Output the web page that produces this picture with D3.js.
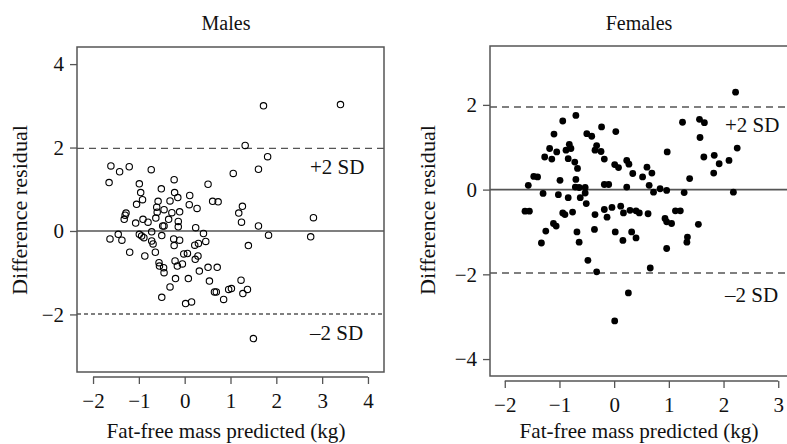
<!DOCTYPE html>
<html>
<head>
<meta charset="utf-8">
<script src="https://cdn.jsdelivr.net/npm/d3@7"></script>
<style>
  body { margin: 0; background: #fff; }
  svg text { font-family: "Liberation Serif", "Times New Roman", Tinos, "DejaVu Serif", "Noto Serif", serif !important; fill: #111; }
</style>
</head>
<body>
<div id="chart"></div>
<script>
// residuals: [predicted fat-free mass, difference residual]
const malesData = [
  [1.72,3.00],[3.40,3.03],[1.32,2.05],[1.81,1.78],[1.61,1.48],[1.06,1.38],
  [-1.61,1.56],[-1.42,1.42],[-1.21,1.54],[-0.73,1.47],
  [-1.65,1.16],[-0.99,1.13],[-0.96,0.92],[-0.92,0.75],[-1.05,0.64],
  [-0.51,1.01],[-0.23,1.23],[-0.22,0.92],[-0.15,0.80],[-0.32,0.72],[-0.58,0.71],
  [-0.61,0.57],[-0.45,0.51],[-0.28,0.44],[-0.11,0.46],[-0.60,0.45],
  [0.11,0.85],[0.10,0.63],[0.27,0.54],[0.51,1.12],[0.61,0.71],[0.73,0.70],
  [1.26,0.59],[1.18,0.43],[1.24,0.21],[1.61,0.12],[1.83,-0.10],[2.81,0.32],[2.75,-0.14],[1.39,-0.35],
  [-1.28,0.43],[-1.30,0.38],[-1.32,0.28],[-1.07,0.19],[-0.91,0.28],[-0.80,0.21],[-0.63,0.31],
  [-0.48,0.12],[-0.45,0.12],[-0.35,0.28],[-0.14,0.23],[-0.14,0.10],[0.24,0.08],[0.41,-0.06],[-0.72,-0.02],
  [-1.63,-0.19],[-1.45,-0.08],[-1.37,-0.22],[-0.99,-0.08],[-0.94,-0.12],[-0.89,-0.16],[-0.72,-0.24],
  [-0.69,-0.31],[-0.50,-0.11],[-0.24,-0.19],[-0.23,-0.35],[-0.11,-0.22],[0.22,-0.34],[0.30,-0.30],[0.46,-0.25],
  [-1.20,-0.51],[-0.87,-0.60],[-0.64,-0.51],[-0.02,-0.55],[0.06,-0.54],[0.23,-0.68],[0.29,-0.60],
  [-0.56,-0.76],[-0.55,-0.84],[-0.46,-0.88],[-0.45,-1.00],[-0.21,-0.72],[-0.16,-0.84],[-0.05,-0.79],
  [0.32,-0.96],[0.51,-0.87],[0.71,-0.87],
  [-0.20,-1.14],[0.08,-1.14],[0.54,-1.20],[-0.32,-1.34],[1.23,-1.18],[1.27,-1.50],[1.37,-1.40],
  [0.65,-1.46],[0.69,-1.46],[0.96,-1.40],[1.02,-1.38],[0.85,-1.64],[-0.50,-1.59],[0.02,-1.74],[0.15,-1.70],
  [1.50,-2.58]
];

const femalesData = [
  [2.22,2.30],[-0.70,1.75],[-0.94,1.62],[1.25,1.59],[1.56,1.66],[1.65,1.58],[-1.10,1.31],[-0.50,1.32],
  [-0.41,1.26],[-0.23,1.48],[0.03,1.37],[1.57,1.23],[2.25,0.98],
  [-1.18,0.97],[-1.05,0.89],[-1.27,0.77],[-1.14,0.72],[-0.88,0.93],[-0.82,1.07],[-0.79,0.97],
  [-0.84,0.73],[-0.72,0.65],[-0.67,0.50],
  [-0.35,0.93],[-0.24,0.90],[-0.32,1.04],[-0.18,0.72],[0.01,0.59],[0.08,0.52],
  [0.23,0.69],[0.27,0.60],[0.34,0.38],[0.52,0.30],[0.60,0.53],[0.69,0.39],[0.97,0.89],[1.38,0.26],
  [1.64,0.77],[1.83,0.81],[1.92,0.61],[2.10,0.69],[1.82,0.39],
  [-1.47,0.31],[-1.40,0.30],[-1.57,0.10],[-0.99,0.22],[-0.70,0.24],[-0.71,0.06],[-0.64,0.05],
  [-0.53,0.05],[-0.18,0.12],[-0.10,0.12],
  [0.23,0.06],[0.64,0.10],[0.72,-0.06],[0.84,0.02],[0.96,-0.02],[1.28,-0.07],[2.18,-0.06],
  [-1.30,-0.09],[-1.02,-0.12],[-0.84,-0.19],[-0.62,-0.19],[-0.53,-0.08],[-0.51,-0.33],
  [-1.63,-0.51],[-1.55,-0.51],[-0.94,-0.55],[-0.90,-0.59],[-0.76,-0.53],[-1.11,-0.80],[-1.06,-0.86],
  [-1.25,-0.98],[-1.33,-1.26],[-0.68,-1.00],[-0.64,-1.24],[-0.48,-1.67],[-0.32,-1.94],
  [-0.35,-0.59],[-0.36,-0.94],[-0.18,-0.47],[-0.13,-0.65],[-0.04,-0.42],[0.02,-1.00],[0.12,-0.39],
  [0.17,-0.55],[0.16,-1.20],[0.29,-0.49],[0.40,-0.50],[0.46,-0.55],[0.32,-1.00],[0.40,-1.14],
  [0.62,-0.57],[0.26,-2.44],[0.01,-3.10],[0.66,-1.85],
  [0.93,-0.68],[0.96,-0.76],[1.05,-0.80],[0.96,-1.39],[1.12,-0.50],[1.21,-0.50],[1.34,-1.12],
  [1.33,-1.24],[1.54,-0.82]
];

const panelTitles = ["Males", "Females"];
const maleXTicks = [-2, -1, 0, 1, 2, 3, 4];
const maleYTicks = [-2, 0, 2, 4];
const femaleXTicks = [-2, -1, 0, 1, 2, 3];
const femaleYTicks = [-4, -2, 0, 2];
const maleLimits = [1.98, -1.99];     // +2 SD, -2 SD
const femaleLimits = [1.95, -1.97];
const xLabel = "Fat-free mass predicted (kg)";
const yLabel = "Difference residual";

const serif = "'Liberation Serif', 'Times New Roman', Tinos, 'DejaVu Serif', serif";

const svg = d3.select("#chart").append("svg")
    .attr("width", 787)
    .attr("height", 444);

function drawPanel(p) {
    let g = svg.append("g");

    let x = d3.scaleLinear().domain(p.xDomain).range([p.left, p.right]);
    let y = d3.scaleLinear().domain(p.yDomain).range([p.bottom, p.top]);

    // frame
    g.append("rect")
        .attr("x", p.left).attr("y", p.top)
        .attr("width", p.right - p.left).attr("height", p.bottom - p.top)
        .attr("fill", "none").attr("stroke", "#555").attr("stroke-width", 1.5);

    // y axis sits on the frame
    let yAxis = g.append("g")
        .attr("transform", "translate(" + p.left + ",0)")
        .call(d3.axisLeft(y).tickValues(p.yTicks).tickSize(7).tickPadding(6).tickFormat(d3.format("d")));
    yAxis.select(".domain").remove();

    // x axis is offset below the frame
    let xAxis = g.append("g")
        .attr("transform", "translate(0," + (p.bottom + 5) + ")")
        .call(d3.axisBottom(x).tickValues(p.xTicks).tickSize(7).tickPadding(9).tickSizeOuter(0).tickFormat(d3.format("d")));
    xAxis.select(".domain").attr("d", "M" + x(p.xTicks[0]) + ",0H" + x(p.xTicks[p.xTicks.length - 1]));

    [yAxis, xAxis].forEach(a => {
        a.attr("font-family", null).attr("font-size", null);
        a.selectAll("line").attr("stroke", "#555").attr("stroke-width", 1.3);
        a.selectAll(".domain").attr("stroke", "#555").attr("stroke-width", 1.3);
        a.selectAll("text").style("font-family", serif).style("font-size", "21px").attr("fill", "#111");
    });

    // reference lines
    g.append("line")
        .attr("x1", p.left).attr("x2", p.right)
        .attr("y1", y(0)).attr("y2", y(0))
        .attr("stroke", "#555").attr("stroke-width", 1.6);
    g.append("line")
        .attr("x1", p.left).attr("x2", p.right)
        .attr("y1", y(p.limits[0])).attr("y2", y(p.limits[0]))
        .attr("stroke", "#555").attr("stroke-width", 1.4).attr("stroke-dasharray", "7,5");
    g.append("line")
        .attr("x1", p.left).attr("x2", p.right)
        .attr("y1", y(p.limits[1])).attr("y2", y(p.limits[1]))
        .attr("stroke", "#555").attr("stroke-width", 1.4).attr("stroke-dasharray", p.lowDash);

    // points
    g.selectAll("circle")
        .data(p.data)
        .enter()
        .append("circle")
        .attr("cx", d => x(d[0]))
        .attr("cy", d => y(d[1]))
        .attr("r", p.filled ? 3.4 : 3.2)
        .attr("fill", p.filled ? "#000" : "none")
        .attr("stroke", "#000")
        .attr("stroke-width", p.filled ? 0 : 1.1);

    // SD labels
    g.append("text")
        .attr("x", p.sdX).attr("y", p.sdUpY)
        .style("font-family", serif).style("font-size", "21px")
        .text("+2 SD");
    g.append("text")
        .attr("x", p.sdX).attr("y", p.sdLowY)
        .style("font-family", serif).style("font-size", "21px")
        .text("\u20132 SD");

    // titles and axis labels
    let cx = p.labelCx;
    g.append("text")
        .attr("x", cx).attr("y", 30)
        .attr("text-anchor", "middle")
        .style("font-family", serif).style("font-size", "20px")
        .text(p.title);
    g.append("text")
        .attr("x", cx).attr("y", 438)
        .attr("text-anchor", "middle")
        .style("font-family", serif).style("font-size", "21px")
        .attr("textLength", 239).attr("lengthAdjust", "spacingAndGlyphs")
        .text(xLabel);
    g.append("text")
        .attr("transform", "translate(" + p.yLabelX + ",210) rotate(-90)")
        .attr("text-anchor", "middle")
        .style("font-family", serif).style("font-size", "21px")
        .attr("textLength", 170).attr("lengthAdjust", "spacingAndGlyphs")
        .text(yLabel);
}

drawPanel({
    data: malesData, filled: false, title: panelTitles[0],
    left: 77, right: 384, top: 47, bottom: 372,
    xDomain: [-2.35, 4.35], yDomain: [-3.38, 4.41],
    xTicks: maleXTicks, yTicks: maleYTicks, limits: maleLimits,
    lowDash: "4,3",
    sdX: 310, sdUpY: 174, sdLowY: 340,
    labelCx: 226, yLabelX: 27
});

drawPanel({
    data: femalesData, filled: true, title: panelTitles[1],
    left: 490, right: 793, top: 46, bottom: 376,
    xDomain: [-2.27, 3.27], yDomain: [-4.40, 3.39],
    xTicks: femaleXTicks, yTicks: femaleYTicks, limits: femaleLimits,
    lowDash: "7,5",
    sdX: 725, sdUpY: 132, sdLowY: 302,
    labelCx: 639, yLabelX: 435
});
</script>
</body>
</html>
